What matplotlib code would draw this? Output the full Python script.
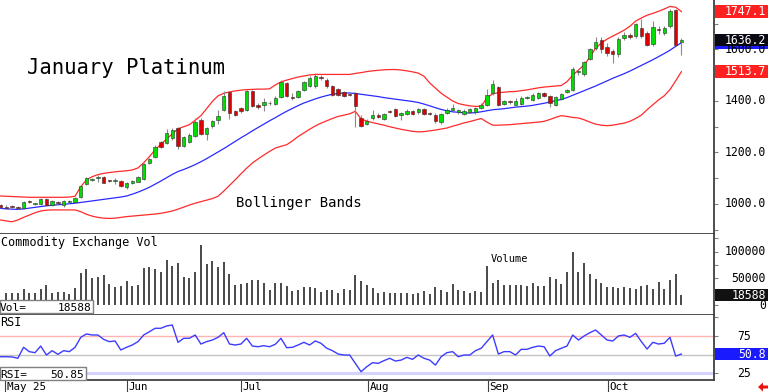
#!/usr/bin/env python3
"""January Platinum daily candles with Bollinger bands, volume and RSI panels."""
import matplotlib
matplotlib.use("Agg")
import matplotlib.pyplot as plt
import numpy as np
from matplotlib.patches import Polygon, Rectangle
from matplotlib.transforms import blended_transform_factory

W, H = 768, 392
PLOT_R = 714
MONO = ["DejaVu Sans Mono"]

opens = [995, 988, 992, 987, 983, 1011, 999, 1000, 1020, 997,
         1006, 995, 1008, 1007, 1026, 1078, 1095, 1100, 1104, 1092,
         1090, 1091, 1067, 1081, 1087, 1096, 1159, 1184, 1239, 1236,
         1256, 1295, 1226, 1240, 1265, 1327, 1273, 1301, 1327, 1366,
         1434, 1360, 1373, 1366, 1437, 1386, 1386, 1394, 1388, 1416,
         1468, 1416, 1416, 1444, 1460, 1457, 1492, 1483, 1457, 1447,
         1434, 1427, 1430, 1334, 1312, 1334, 1347, 1330, 1361, 1369,
         1347, 1351, 1360, 1356, 1369, 1351, 1347, 1317, 1353, 1364,
         1356, 1351, 1358, 1356, 1373, 1386, 1429, 1455, 1388, 1398,
         1386, 1388, 1411, 1405, 1412, 1429, 1418, 1386, 1409, 1435,
         1441, 1514, 1503, 1564, 1607, 1636, 1610, 1593, 1584, 1643,
         1655, 1652, 1684, 1665, 1622, 1680, 1665, 1691, 1752, 1628]
closes = [990, 986, 988, 983, 1009, 1006, 1001, 1018, 997, 1013,
          1003, 1012, 1011, 1025, 1070, 1100, 1097, 1103, 1083, 1088,
          1091, 1069, 1081, 1090, 1104, 1155, 1174, 1223, 1221, 1275,
          1288, 1226, 1260, 1269, 1317, 1273, 1295, 1323, 1343, 1420,
          1353, 1344, 1360, 1437, 1379, 1375, 1395, 1391, 1412, 1473,
          1418, 1412, 1437, 1473, 1490, 1496, 1488, 1457, 1425, 1425,
          1421, 1423, 1379, 1304, 1323, 1347, 1338, 1349, 1359, 1343,
          1353, 1362, 1350, 1369, 1351, 1349, 1321, 1349, 1366, 1373,
          1364, 1362, 1369, 1373, 1386, 1425, 1464, 1386, 1399, 1395,
          1401, 1412, 1413, 1425, 1431, 1419, 1392, 1416, 1427, 1444,
          1525, 1517, 1552, 1600, 1628, 1600, 1587, 1583, 1640, 1658,
          1647, 1697, 1652, 1619, 1688, 1677, 1684, 1749, 1616, 1636.2]
highs = [1000, 995, 997, 992, 1012, 1014, 1004, 1022, 1024, 1016,
         1010, 1015, 1014, 1028, 1075, 1103, 1102, 1113, 1108, 1095,
         1102, 1094, 1084, 1093, 1107, 1160, 1180, 1228, 1245, 1290,
         1296, 1300, 1265, 1275, 1335, 1332, 1300, 1328, 1365, 1440,
         1440, 1366, 1378, 1444, 1442, 1392, 1410, 1400, 1418, 1480,
         1474, 1430, 1442, 1478, 1496, 1510, 1500, 1490, 1462, 1452,
         1440, 1432, 1435, 1345, 1330, 1365, 1352, 1354, 1366, 1374,
         1358, 1367, 1365, 1374, 1374, 1356, 1352, 1354, 1371, 1390,
         1369, 1367, 1374, 1378, 1391, 1445, 1480, 1460, 1404, 1405,
         1410, 1418, 1418, 1430, 1436, 1434, 1422, 1421, 1432, 1448,
         1530, 1522, 1556, 1604, 1650, 1650, 1625, 1600, 1650, 1668,
         1662, 1703, 1720, 1672, 1710, 1690, 1690, 1758, 1756, 1645]
lows = [985, 980, 984, 980, 980, 1004, 996, 998, 994, 994,
        1000, 988, 1004, 1004, 1022, 1074, 1090, 1087, 1080, 1085,
        1078, 1066, 1060, 1078, 1084, 1094, 1156, 1180, 1218, 1232,
        1250, 1213, 1220, 1236, 1260, 1268, 1250, 1296, 1310, 1360,
        1330, 1340, 1355, 1362, 1375, 1370, 1360, 1386, 1384, 1412,
        1414, 1405, 1412, 1440, 1456, 1452, 1482, 1452, 1420, 1420,
        1416, 1418, 1300, 1300, 1306, 1325, 1333, 1325, 1354, 1338,
        1325, 1346, 1345, 1351, 1346, 1344, 1316, 1312, 1348, 1358,
        1350, 1346, 1353, 1350, 1368, 1382, 1425, 1382, 1384, 1388,
        1380, 1384, 1406, 1400, 1408, 1414, 1378, 1382, 1404, 1431,
        1437, 1500, 1498, 1560, 1598, 1585, 1575, 1549, 1570, 1638,
        1640, 1646, 1646, 1612, 1615, 1660, 1658, 1685, 1612, 1580]

upper_band = [1031, 1030, 1029, 1028, 1027, 1026, 1026, 1026, 1026, 1026,
              1026, 1026, 1027, 1030, 1067, 1094, 1106, 1114, 1119, 1122,
              1125, 1127, 1129, 1132, 1140, 1160, 1184, 1210, 1232, 1252,
              1272, 1292, 1300, 1308, 1325, 1343, 1370, 1398, 1420, 1430,
              1435, 1439, 1442, 1444, 1445, 1446, 1446, 1447, 1462, 1474,
              1481, 1487, 1493, 1497, 1501, 1503, 1503, 1503, 1503, 1503,
              1503, 1503, 1507, 1510, 1514, 1517, 1519, 1521, 1522, 1522,
              1520, 1517, 1513, 1508, 1496, 1470, 1450, 1430, 1415, 1400,
              1390, 1385, 1381, 1379, 1379, 1412, 1428, 1432, 1434, 1436,
              1437, 1440, 1443, 1447, 1451, 1454, 1456, 1458, 1460, 1475,
              1500, 1520, 1540, 1570, 1605, 1625, 1640, 1652, 1663, 1675,
              1690, 1710, 1722, 1733, 1740, 1748, 1757, 1767, 1764, 1747.1]
middle_band = [983, 981, 980, 979, 981, 984, 987, 990, 993, 995,
               997, 999, 1001, 1003, 1006, 1009, 1012, 1015, 1018, 1021,
               1024, 1027, 1031, 1038, 1046, 1055, 1065, 1077, 1089, 1102,
               1115, 1126, 1134, 1143, 1153, 1164, 1176, 1189, 1202, 1215,
               1229, 1243, 1257, 1270, 1284, 1297, 1310, 1323, 1335, 1348,
               1360, 1371, 1382, 1392, 1400, 1408, 1415, 1421, 1426, 1429,
               1431, 1431, 1429, 1426, 1423, 1420, 1417, 1413, 1410, 1407,
               1404, 1401, 1398, 1394, 1388, 1381, 1374, 1367, 1362, 1358,
               1356, 1354, 1353, 1355, 1358, 1362, 1366, 1368, 1370, 1373,
               1376, 1378, 1380, 1383, 1387, 1391, 1396, 1401, 1406, 1413,
               1422, 1431, 1440, 1449, 1458, 1468, 1478, 1488, 1497, 1506,
               1516, 1527, 1538, 1549, 1560, 1572, 1584, 1597, 1612, 1626]
lower_band = [938, 934, 931, 938, 948, 957, 966, 973, 976, 977,
              977, 977, 977, 977, 970, 960, 953, 948, 945, 944,
              945, 948, 951, 953, 955, 957, 959, 961, 964, 968,
              973, 980, 988, 996, 1003, 1009, 1015, 1021, 1030, 1050,
              1072, 1094, 1117, 1139, 1159, 1175, 1190, 1204, 1217, 1224,
              1230, 1245, 1262, 1276, 1290, 1303, 1314, 1323, 1332, 1340,
              1345, 1350, 1360, 1330, 1322, 1316, 1311, 1306, 1300, 1295,
              1290, 1286, 1282, 1280, 1281, 1284, 1287, 1291, 1295, 1302,
              1308, 1315, 1320, 1326, 1332, 1318, 1306, 1306, 1307, 1308,
              1310, 1312, 1314, 1316, 1318, 1321, 1328, 1336, 1343, 1340,
              1336, 1334, 1327, 1318, 1310, 1306, 1304, 1306, 1310, 1314,
              1321, 1332, 1345, 1366, 1385, 1404, 1420, 1444, 1478, 1513.7]

# volume starts at the second session (first bar sits under the frame)
volume = [23100, 23100, 23100, 29300, 23100, 23100, 29300, 37400, 23100, 25000,
          25000, 20600, 31200, 59300, 66800, 49900, 53000, 56200, 39300, 34300,
          35600, 44900, 35600, 37400, 69900, 71800, 66800, 61200, 84200, 73600,
          78000, 53000, 49900, 61200, 112300, 76100, 82400, 71800, 79900, 57400,
          37400, 39300, 41800, 46800, 46800, 41800, 28100, 41800, 41800, 35600,
          26200, 28100, 34300, 34300, 31200, 23700, 28100, 28100, 23100, 30000,
          28100, 56200, 44900, 37400, 31200, 23100,
          25000, 21800, 23100, 23100, 23100, 20600, 21800, 26800, 20000, 33100,
          28100, 25000, 39300, 28100, 26200, 21800, 26200, 25000, 73600, 41800,
          46800, 37400, 37400, 37400, 37400, 35600, 40600, 35600, 35600, 53000,
          48700, 39300, 61200, 98600, 61200, 78000, 57400, 48700, 40600, 33100,
          33100, 31200, 33100, 32400, 29300, 36200, 37400, 29300, 43700, 30000,
          46800, 57400, 18588]

rsi = [47.3, 47.3, 47.0, 45.2, 59.9, 54.1, 52.7, 61.6, 49.6, 55.4,
       50.5, 55.4, 54.1, 59.9, 73.3, 77.8, 76.4, 76.4, 70.6, 67.5,
       68.4, 56.3, 59.9, 63.0, 67.5, 76.4, 80.8, 85.4, 85.4, 88.5,
       89.8, 66.6, 72.0, 72.0, 76.4, 64.3, 67.5, 69.7, 73.3, 79.5,
       64.3, 63.0, 64.3, 72.0, 61.6, 60.7, 62.1, 60.7, 63.9, 72.0,
       59.4, 59.9, 63.0, 66.6, 63.0, 68.4, 65.3, 58.6, 55.4, 50.9,
       49.6, 49.6, 38.4, 27.2, 33.9, 39.3, 38.4, 42.0, 45.2, 41.5,
       42.8, 46.4, 43.8, 49.6, 45.2, 42.8, 36.1, 47.3, 52.7, 54.1,
       47.3, 49.6, 49.6, 55.4, 58.6, 67.5, 76.4, 50.9, 54.1, 54.1,
       49.6, 57.2, 57.2, 59.9, 61.6, 60.7, 48.2, 55.4, 58.6, 61.6,
       76.4, 69.7, 75.1, 79.5, 83.1, 76.4, 69.7, 68.4, 75.1, 76.4,
       73.3, 78.6, 67.5, 57.6, 66.6, 64.3, 65.3, 73.3, 48.2, 50.85]

month_pos = [0.8, 22, 42, 64.2, 85.2, 106.2]
month_labels = ["May 25", "Jun", "Jul", "Aug", "Sep", "Oct"]

price_ticks = [1000, 1200, 1400, 1600]
vol_ticks = [0, 50000, 100000]
rsi_ticks = [25, 75]


def panel(fig, top, bottom, ylim):
    ax = fig.add_axes([0, 1 - bottom / H, PLOT_R / W, (bottom - top) / H])
    ax.set_xlim(-0.12, 124.7)
    ax.set_ylim(*ylim)
    for side in ("left", "top"):
        ax.spines[side].set_visible(False)
    for side in ("right", "bottom"):
        ax.spines[side].set_color("#404040")
        ax.spines[side].set_linewidth(1.3)
    ax.set_xticks([])
    ax.yaxis.set_ticks_position("right")
    ax.tick_params(axis="y", length=3, width=0.8, color="#808080", labelright=False)
    return ax


def right_label(fig, ax, y, text, x_right=766, box=None, size=8.3):
    tr = blended_transform_factory(fig.transFigure, ax.transData)
    if box is not None:
        lo, hi = ax.get_ylim()
        h_px = ax.get_position().height * H
        half = 6.3 * (hi - lo) / h_px
        ax.add_patch(Rectangle(((PLOT_R + 1) / W, y - half), (W - PLOT_R) / W, 2 * half,
                               transform=tr, facecolor=box, edgecolor="none",
                               clip_on=False, zorder=5))
    ax.text(x_right / W, y, text, transform=tr, ha="right", va="center",
            color="white" if box is not None else "black", fontsize=size,
            family=MONO, clip_on=False, zorder=6)


def main() -> None:
    fig = plt.figure(figsize=(W / 100, H / 100), dpi=100)
    x = np.arange(len(closes))
    o, c = np.array(opens), np.array(closes)

    # price panel
    ax = panel(fig, 0, 234, (883.5, 1792))
    ax.set_yticks(np.arange(900, 1800, 100))
    ax.plot(x, upper_band, color="#ff2a2a", lw=0.9, zorder=2)
    ax.plot(x, lower_band, color="#ff2a2a", lw=0.9, zorder=2)
    ax.plot(x, middle_band, color="#2a2aff", lw=0.9, zorder=2)
    ax.vlines(x, lows, highs, color="#8a8a8a", lw=0.8, zorder=3)
    up = c >= o
    body = np.maximum(np.abs(c - o), 3)
    ax.bar(x, body, bottom=np.minimum(o, c), width=0.6,
           color=np.where(up, "#00dd00", "#dd0000"), edgecolor="#303030",
           linewidth=0.4, zorder=4)
    for t in price_ticks:
        right_label(fig, ax, t, f"{t:.1f}")
    right_label(fig, ax, upper_band[-1], f"{upper_band[-1]:.1f}", box="#ff2020")
    right_label(fig, ax, lower_band[-1], f"{lower_band[-1]:.1f}", box="#ff2020")
    right_label(fig, ax, middle_band[-1], "", box="#1a1aff")
    right_label(fig, ax, closes[-1], f"{closes[-1]:.1f}", box="#0a0a14")

    # volume panel
    axv = panel(fig, 234, 315, (-18730, 133000))
    axv.set_yticks(np.arange(0, 125001, 25000))
    axv.vlines(x[1:], 0, volume, color="#2a2a2a", lw=1.2)
    for t in vol_ticks:
        right_label(fig, axv, t, f"{t}")
    right_label(fig, axv, volume[-1], f"{volume[-1]}", box="#111111")

    # RSI panel
    axr = panel(fig, 315, 380, (16.1, 103.2))
    axr.set_yticks([25, 50, 75, 100])
    axr.axhline(75, color="#ffb4b4", lw=1.0)
    axr.axhline(50, color="#c4c4c4", lw=1.0)
    axr.axhline(25, color="#d4d4ff", lw=2.2)
    axr.plot(x, rsi, color="#3c3cff", lw=1.0)
    for t in rsi_ticks:
        right_label(fig, axr, t, f"{t}", x_right=751)
    # the readout shows the value cut to four characters
    right_label(fig, axr, rsi[-1], str(rsi[-1])[:4], box="#1a1aff")

    # month axis under the RSI panel
    axr.set_xticks(month_pos)
    axr.tick_params(axis="x", length=8.6, width=0.8, color="#404040",
                    direction="out", labelbottom=False)
    trx = blended_transform_factory(axr.transData, fig.transFigure)
    for pos, lab in zip(month_pos, month_labels):
        axr.text(pos + 0.28, 1 - 381.5 / H, lab, transform=trx, ha="left", va="top",
                 fontsize=7.8, family=MONO, clip_on=False)

    # titles and captions
    fig.text(27 / W, 1 - 74 / H, "January Platinum", fontsize=14.8, family=MONO, va="baseline")
    fig.text(236 / W, 1 - 207 / H, "Bollinger Bands", fontsize=10, family=MONO, va="baseline")
    fig.text(1 / W, 1 - 246 / H, "Commodity Exchange Vol", fontsize=8.5, family=MONO, va="baseline")
    fig.text(491 / W, 1 - 262 / H, "Volume", fontsize=7.5, family=MONO, va="baseline")
    fig.text(0, 1 - 326.5 / H, "RSI", fontsize=8.5, family=MONO, va="baseline")

    # readout boxes
    fig.add_artist(Rectangle((0, 1 - 313 / H), 93 / W, 13 / H, transform=fig.transFigure,
                             facecolor="white", edgecolor="#808080", lw=1))
    fig.text(0, 1 - 311 / H, "Vol=", fontsize=8, family=MONO, va="baseline")
    fig.text(91 / W, 1 - 311 / H, f"{volume[-1]}", fontsize=8, family=MONO,
             va="baseline", ha="right")
    fig.add_artist(Rectangle((0, 1 - 380 / H), 86 / W, 13 / H, transform=fig.transFigure,
                             facecolor="white", edgecolor="#808080", lw=1))
    fig.text(0, 1 - 378 / H, "RSI=", fontsize=8, family=MONO, va="baseline")
    fig.text(84 / W, 1 - 378 / H, f"{rsi[-1]:.2f}", fontsize=8, family=MONO,
             va="baseline", ha="right")

    # small red back-arrow in the corner
    pts = [(758, 387), (763, 382.5), (763, 385.5), (768, 385.5),
           (768, 388.5), (763, 388.5), (763, 391.5)]
    fig.add_artist(Polygon([(px / W, 1 - py / H) for px, py in pts],
                           transform=fig.transFigure, facecolor="#ee1111", edgecolor="none"))

    fig.savefig("out.png", dpi=100)


if __name__ == "__main__":
    main()
